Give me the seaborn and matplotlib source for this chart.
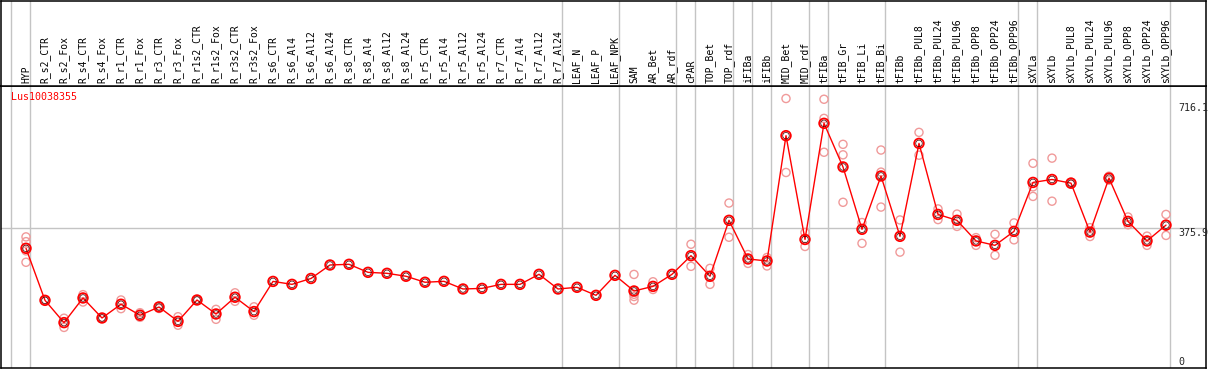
import numpy as np
import pandas as pd
import matplotlib
matplotlib.use("Agg")
import matplotlib.pyplot as plt
import seaborn as sns

# Expression profile of one gene across tissues / treatments

gene = "Lus10038355"

samples = [
    "HYP",
    "R_s2_CTR", "R_s2_Fox", "R_s4_CTR", "R_s4_Fox", "R_r1_CTR", "R_r1_Fox",
    "R_r3_CTR", "R_r3_Fox", "R_r1s2_CTR", "R_r1s2_Fox", "R_r3s2_CTR", "R_r3s2_Fox",
    "R_s6_CTR", "R_s6_Al4", "R_s6_Al12", "R_s6_Al24",
    "R_s8_CTR", "R_s8_Al4", "R_s8_Al12", "R_s8_Al24",
    "R_r5_CTR", "R_r5_Al4", "R_r5_Al12", "R_r5_Al24",
    "R_r7_CTR", "R_r7_Al4", "R_r7_Al12", "R_r7_Al24",
    "LEAF_N", "LEAF_P", "LEAF_NPK",
    "SAM", "AR_Bet", "AR_rdf",
    "cPAR",
    "TOP_Bet", "TOP_rdf",
    "iFIBa",
    "iFIBb",
    "MID_Bet", "MID_rdf",
    "tFIBa",
    "tFIB_Gr", "tFIB_Li", "tFIB_Bi",
    "tFIBb", "tFIBb_PUL8", "tFIBb_PUL24", "tFIBb_PUL96",
    "tFIBb_OPP8", "tFIBb_OPP24", "tFIBb_OPP96",
    "sXYLa",
    "sXYLb", "sXYLb_PUL8", "sXYLb_PUL24", "sXYLb_PUL96",
    "sXYLb_OPP8", "sXYLb_OPP24", "sXYLb_OPP96",
]

# samples per group (gray separators between groups)
group_sizes = [1, 28, 3, 3, 1, 2, 1, 1, 2, 1, 3, 7, 1, 7]

mean_expr = [
    322,
    180.6, 120, 187, 132.6, 170, 140, 162.5, 123.5, 181.5, 143.5, 189, 150,
    232, 224, 240, 276.6,
    278.5, 256.7, 254, 246,
    229.7, 232.2, 211.4, 213,
    224, 224, 251.3, 211.4,
    216, 194.2, 248.5,
    206, 218.5, 251.3,
    302,
    246, 398,
    293,
    287.5,
    628, 346,
    661.6,
    543, 373.6, 518.5,
    354.5, 607, 414, 398,
    342, 330, 368,
    501,
    509, 499, 366, 512.7,
    395, 342, 385,
]

replicates = [
    [353, 340, 315, 284],
    [181, 180], [132, 107], [196, 176], [133, 132], [181.5, 158], [147, 134.4],
    [165, 158.5], [136, 113], [182, 181], [156, 129], [201, 178], [163, 140],
    [], [], [], [],
    [], [], [], [],
    [], [], [], [],
    [], [], [], [],
    [], [], [],
    [251, 197, 191, 181], [231, 210], [],
    [333, 273],
    [267.5, 224], [445, 352],
    [305, 281],
    [297, 274],
    [729, 528], [365, 327],
    [727, 675, 583],
    [604.5, 576, 447], [392, 335.5], [589, 529, 434],
    [399, 311.6], [637, 575], [429, 400], [415, 381.5],
    [351, 330], [360, 303], [391, 345],
    [553, 489, 463],
    [567, 450], [502, 496], [378, 354], [518, 507],
    [407, 386], [355, 330], [414, 357],
]

scale_marks = [716.1, 375.9, 0]
ref_line = 375.9

# long table for seaborn
x_idx = np.arange(len(samples))
df_mean = pd.DataFrame({"pos": x_idx, "expr": mean_expr})
df_rep = pd.DataFrame(
    [(i, v) for i, reps in enumerate(replicates) for v in reps],
    columns=["pos", "expr"],
)

sns.set_style("white")
plt.rcParams["font.family"] = ["DejaVu Sans Mono"]

W, H = 1209, 370
fig = plt.figure(figsize=(W / 100, H / 100), dpi=100)

left_px, right_px = 1.3, 1206
top_px, split_px, bottom_px = 0.5, 86, 368
x0 = left_px / W
w = (right_px - left_px) / W
ax = fig.add_axes([x0, 1 - bottom_px / H, w, (bottom_px - split_px) / H])
lab = fig.add_axes([x0, 1 - split_px / H, w, (split_px - top_px) / H], sharex=ax)

xmin, xmax = (left_px - 26) / 19, (right_px - 26) / 19
ax.set_xlim(xmin, xmax)
ax.set_ylim(-3.3, 763)
lab.set_ylim(0, 1)

grid_c = "#c4c4c4"
bounds = np.concatenate([[0], np.cumsum(group_sizes)]) - 1 + 0.21
for b in bounds:
    ax.axvline(b, color=grid_c, lw=1.0, zorder=0)
    lab.axvline(b, color=grid_c, lw=1.0, zorder=0)
ax.axhline(ref_line, color=grid_c, lw=1.0, zorder=0)

# replicates
sns.scatterplot(data=df_rep, x="pos", y="expr", ax=ax, marker="o", s=34,
                facecolor="none", edgecolor="#f09a9a", linewidth=1.0, zorder=2)
# mean line
sns.lineplot(data=df_mean, x="pos", y="expr", ax=ax, color="#ff0000", lw=1.0,
             zorder=3)
sns.scatterplot(data=df_mean, x="pos", y="expr", ax=ax, marker="o", s=48,
                facecolor="none", edgecolor="#ff0000", linewidth=1.3, zorder=4)
sns.scatterplot(data=df_mean, x="pos", y="expr", ax=ax, marker="o", s=22,
                facecolor="none", edgecolor="#400000", linewidth=0.5, zorder=5)

# sample labels
for i, name in enumerate(samples):
    lab.text(i, 3 / 86, name, rotation=90, ha="center", va="bottom",
             fontsize=7, color="black")

ax.text(9.3 / (right_px - left_px), 1 - 5.5 / 282, gene, transform=ax.transAxes,
        ha="left", va="top", fontsize=7.2, color="#ff0000")

tx = (1178 - 26) / 19
for v in scale_marks:
    if v == 0:
        ax.text(tx, v, "0", ha="left", va="bottom", fontsize=7.2)
    else:
        ax.text(tx, v, f"{v}", ha="left", va="top", fontsize=7.2)

for a in (ax, lab):
    a.set_xlabel("")
    a.set_ylabel("")
    a.set_xticks([])
    a.set_yticks([])
    for s in a.spines.values():
        s.set_color("black")
        s.set_linewidth(1.1)
        s.set_visible(True)

fig.savefig("out.png", dpi=100)
